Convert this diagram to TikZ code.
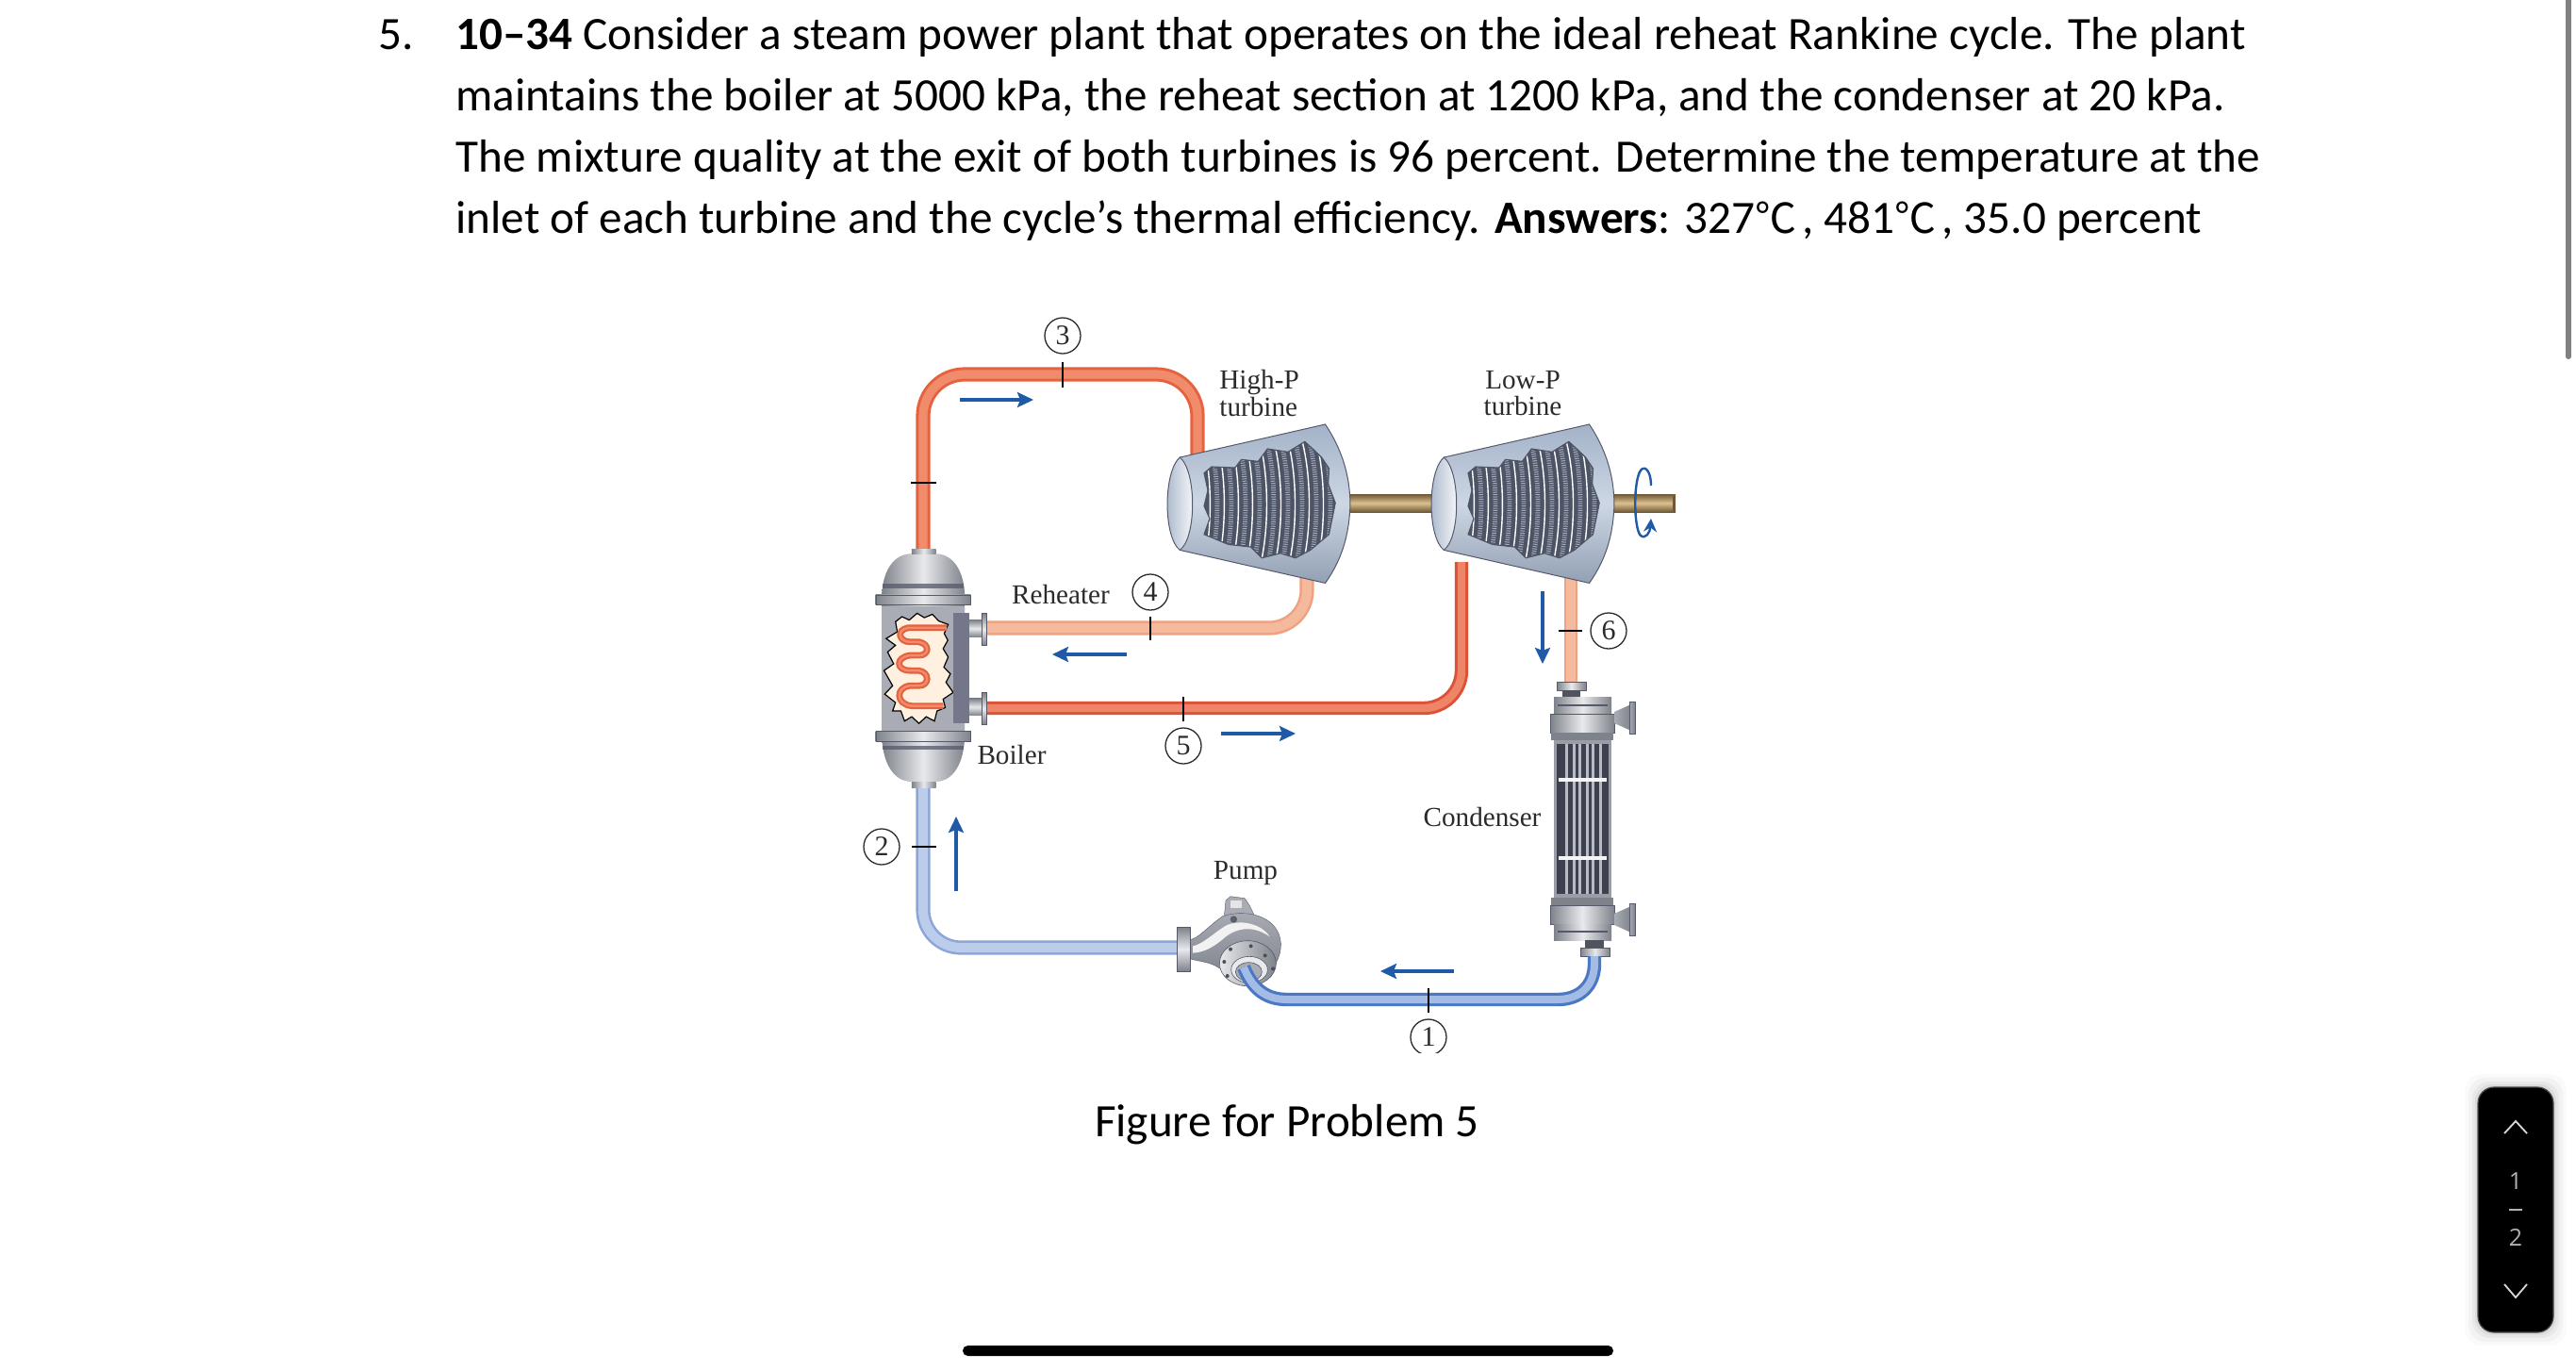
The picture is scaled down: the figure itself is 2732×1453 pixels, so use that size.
\documentclass[tikz,border=0pt]{standalone}
\usepackage{fontspec}
\usetikzlibrary{arrows.meta,calc}
\setmainfont{Carlito}
\newfontfamily\labfont{Liberation Serif}
\newfontfamily\cjkfont{Noto Sans CJK SC}
\newfontfamily\uifont{Open Sans}
\definecolor{hotA}{HTML}{E6623F}\definecolor{hotB}{HTML}{F08C6C}
\definecolor{hotC}{HTML}{DC5236}\definecolor{hotD}{HTML}{EF8568}
\definecolor{warmA}{HTML}{EFA27F}\definecolor{warmB}{HTML}{F5BA9E}
\definecolor{coldA}{HTML}{4B78C2}\definecolor{coldB}{HTML}{A3BCE6}
\definecolor{paleA}{HTML}{8CA6D8}\definecolor{paleB}{HTML}{BCCDEB}
\definecolor{flow}{HTML}{1F5AA8}
\definecolor{metalD}{HTML}{7E828A}\definecolor{metalL}{HTML}{E8E9EC}
\definecolor{metalM}{HTML}{A9ACB4}\definecolor{edge}{HTML}{55596A}
\definecolor{caseD}{HTML}{A3B2C8}\definecolor{caseL}{HTML}{CDD7E4}
\definecolor{bladeD}{HTML}{4C5466}\definecolor{bladeL}{HTML}{A5ACBB}
\definecolor{shaftL}{HTML}{DDC18E}\definecolor{shaftD}{HTML}{6E5836}
\definecolor{txt}{HTML}{2B2B2B}
\definecolor{sidebox}{HTML}{737789}\definecolor{neckD}{HTML}{50545F}
\definecolor{tubeD}{HTML}{3D414F}\definecolor{tubeL}{HTML}{B8BBC6}\definecolor{tubeW}{HTML}{9A9DA6}
\definecolor{boltA}{HTML}{4A4E58}\definecolor{boltB}{HTML}{5B5F6A}\definecolor{scrollc}{HTML}{808080}
\tikzset{
  pipe/.style={line cap=butt,line join=round},
  bodytext/.style={anchor=base west,inner sep=0pt,text=black,font=\fontsize{24.6}{24.6}\selectfont},
  lab/.style={inner sep=0pt,text=txt,align=left,font=\labfont\fontsize{14.6}{15.2}\selectfont},
  state/.style={circle,draw=txt,line width=0.65pt,minimum size=19pt,inner sep=0pt,text=txt,font=\labfont\fontsize{15}{15}\selectfont},
  tick/.style={draw=black,line width=1.2pt},
  flowarrow/.style={draw=flow,line width=1.6pt,-{Stealth[length=8.5pt,width=8pt,inset=1.5pt]}},
  metalh/.style={shade,left color=metalD,right color=metalD,middle color=metalL},
  metalv/.style={shade,top color=metalD,bottom color=metalD,middle color=metalL},
  thinedge/.style={draw=edge,line width=0.2pt},
}
\newcommand{\turbineshape}[1]{%
\begin{scope}[shift={(#1,370)},x=0.1976pt,y=-0.1667pt]
  \path[shade,top color=caseD,bottom color=caseD!90!black,middle color=caseL,draw=edge,line width=0.5pt]
    (130,345) -- (520,240) .. controls (565,320) and (585,400) .. (587,490)
    .. controls (585,590) and (565,670) .. (520,745) -- (130,640)
    .. controls (95,600) and (95,390) .. (130,345) -- cycle;
  \path[shade,left color=caseD,right color=white,draw=edge,line width=0.5pt]
    (130,345) .. controls (175,390) and (175,600) .. (130,640)
    .. controls (85,600) and (85,390) .. (130,345) -- cycle;
  \begin{scope}
    \clip (195,395) -- (215,375) -- (278,378) -- (295,352) -- (340,358) -- (365,318) -- (420,328) -- (465,295)
      -- (490,322) -- (510,345) -- (530,380) -- (528,430) -- (547,490) -- (530,590) -- (495,625) -- (480,640) -- (440,665)
      -- (400,650) -- (350,665) -- (320,630) -- (260,622) -- (195,590) -- (210,540) -- (195,500) -- (205,450) -- cycle;
    \fill[bladeD] (180,280) rectangle (560,680);
    \foreach \a in {245,283,321,359,397,435,473,511,549}{
      \draw[bladeL,line width=2.4pt,dash pattern=on 0.5pt off 0.7pt] ({\a-45},250) .. controls ({\a-5},380) and ({\a-5},610) .. ({\a-45},740);
    }
    \foreach \a in {226,264,302,340,378,416,454,492,530}{
      \draw[white,line width=0.7pt] ({\a-45},250) .. controls ({\a-5},380) and ({\a-5},610) .. ({\a-45},740);
    }
  \end{scope}
  \draw[bladeD,line width=0.6pt] (195,395) -- (215,375) -- (278,378) -- (295,352) -- (340,358) -- (365,318) -- (420,328) -- (465,295)
      -- (490,322) -- (510,345) -- (530,380) -- (528,430) -- (547,490) -- (530,590) -- (495,625) -- (480,640) -- (440,665)
      -- (400,650) -- (350,665) -- (320,630) -- (260,622) -- (195,590) -- (210,540) -- (195,500) -- (205,450) -- cycle;
\end{scope}}
\newcommand{\condflange}[1]{%
  \path[metalh,thinedge] (1644,#1) rectangle ++(68,20);
}
\newcommand{\celsiusmark}{{\cjkfont\fontsize{22}{22}\selectfont ℃}\kern3pt}
\begin{document}
\begin{tikzpicture}[x=0.5pt,y=-0.5pt]
\useasboundingbox (0,0) rectangle (2732,1453);
\fill[white] (0,0) rectangle (2732,1453);

% ---------- problem text
\node[bodytext] (num) at (401,52) {5.};
\node[bodytext] (l1) at (483,52) {\textbf{10–34} Consider a steam power plant that operates on the ideal reheat Rankine cycle. The plant};
\node[bodytext] (l2) at (483,117) {maintains the boiler at 5000 kPa, the reheat section at 1200 kPa, and the condenser at 20 kPa.};
\node[bodytext] (l3) at (483,182) {The mixture quality at the exit of both turbines is 96 percent. Determine the temperature at the};
\node[bodytext] (l4) at (483,247.5) {inlet of each turbine and the cycle’s thermal efficiency. \textbf{Answers}: 327\celsiusmark, 481\celsiusmark, 35.0 percent};
\node[bodytext,anchor=base] (cap) at (1365,1205) {Figure for Problem 5};

% ---------- named pipe points
\coordinate (boilerTop) at (979,582);
\coordinate (boilerBot) at (979,835);
\coordinate (hpIn) at (1270,492);
\coordinate (hpOut) at (1386,606);
\coordinate (reOut) at (1047,666);
\coordinate (reIn) at (1047,751);
\coordinate (lpIn) at (1550,596);
\coordinate (lpOut) at (1666,606);
\coordinate (condIn) at (1666,724);
\coordinate (condOut) at (1691,1014);
\coordinate (pumpIn) at (1319,1026);
\coordinate (pumpOut) at (1250,1005);

% ---------- pipes
\draw[pipe,rounded corners=22pt,draw=hotA,line width=1.5pt,double=hotB,double distance=4.6pt]
  (boilerTop) -- (979,397) -- (1270,397) -- (hpIn);
\draw[pipe,rounded corners=20pt,draw=warmA,line width=1.3pt,double=warmB,double distance=5pt]
  (reOut) -- (1386,666) -- (hpOut);
\draw[pipe,rounded corners=20pt,draw=hotC,line width=1.5pt,double=hotD,double distance=4.2pt]
  (reIn) -- (1550,751) -- (lpIn);
\draw[pipe,draw=warmA,line width=1pt,double=warmB,double distance=5.2pt] (lpOut) -- (condIn);
\draw[pipe,rounded corners=20pt,draw=paleA,line width=1.3pt,double=paleB,double distance=5pt]
  (boilerBot) -- (979,1005) -- (pumpOut);

% ---------- turbines
\path[shade,top color=shaftD,bottom color=shaftD,middle color=shaftL] (1425,524) rectangle (1540,543);
\path[shade,top color=shaftD,bottom color=shaftD,middle color=shaftL] (1705,524) rectangle (1777,543);
\turbineshape{1200}
\turbineshape{1480}
\fill[shaftD] (1774,526) rectangle (1777,543);
\coordinate (rotA) at (1751,515);
\coordinate (rotB) at (1751,550);
\draw[draw=flow,line width=1.2pt,-{Stealth[length=7pt,width=7pt]}] (rotA) .. controls (1751,500) and (1745,495) .. (1742,497)
  .. controls (1732,502) and (1732,560) .. (1740,568) .. controls (1745,572) and (1750,565) .. (rotB);

% ---------- ticks
\draw[tick] (1127,384) -- (1127,411);
\draw[tick] (966,512) -- (993,512);
\draw[tick] (1220,654) -- (1220,679);
\draw[tick] (1255,739) -- (1255,765);
\draw[tick] (1653,669) -- (1678,669);
\draw[tick] (967,898) -- (993,898);

% ---------- boiler
\begin{scope}[shift={(900,320)},x=0.1913pt,y=-0.1786pt]
  \path[metalh] (92,1000) -- (322,1000) -- (322,1280) .. controls (322,1370) and (290,1425) .. (240,1425) -- (175,1425) .. controls (125,1425) and (92,1370) .. (92,1280) -- cycle;
  \path[metalh] (92,880) .. controls (92,800) and (125,748) .. (175,748) -- (240,748) .. controls (290,748) and (322,800) .. (322,880) -- (322,1000) -- (92,1000) -- cycle;
  \path[metalh] (175,735) rectangle (242,750);
  \path[metalh] (175,1425) rectangle (242,1442);
  \fill[metalM] (92,905) rectangle (322,1275);
  \fill[edge,opacity=.75] (95,838) rectangle (318,850);
  \fill[edge,opacity=.75] (95,1318) rectangle (318,1330);
  \path[metalh,thinedge] (75,870) rectangle (338,900);
  \path[metalh,thinedge] (75,1275) rectangle (338,1305);
  % window
  \path[fill=white!88!orange,draw=black,line width=0.6pt]
    (130,950) -- (148,935) -- (168,945) -- (190,925) -- (210,938) -- (232,928) -- (250,948) -- (276,958)
    -- (265,985) -- (275,1005) -- (262,1030) -- (276,1055) -- (264,1085) -- (282,1105) -- (270,1130) -- (290,1160)
    -- (262,1180) -- (268,1205) -- (245,1215) -- (238,1245) -- (215,1232) -- (195,1252) -- (175,1232) -- (155,1245) -- (145,1215) -- (122,1215)
    -- (130,1190) -- (100,1165) -- (122,1140) -- (98,1095) -- (125,1075) -- (108,1040) -- (130,1020) -- (104,1000) -- (135,980) -- cycle;
  \draw[hotA,line width=3.4pt,line join=round] (272,968) -- (165,968) .. controls (130,975) and (140,1010) .. (170,1010) -- (195,1010) .. controls (225,1015) and (225,1050) .. (195,1050) -- (170,1050) .. controls (130,1055) and (130,1095) .. (170,1095) -- (195,1095) .. controls (225,1100) and (225,1140) .. (195,1140) -- (170,1140) .. controls (130,1145) and (130,1195) .. (175,1200) -- (262,1200);
  \draw[hotB,line width=1.2pt,line join=round] (272,968) -- (165,968) .. controls (130,975) and (140,1010) .. (170,1010) -- (195,1010) .. controls (225,1015) and (225,1050) .. (195,1050) -- (170,1050) .. controls (130,1055) and (130,1095) .. (170,1095) -- (195,1095) .. controls (225,1100) and (225,1140) .. (195,1140) -- (170,1140) .. controls (130,1145) and (130,1195) .. (175,1200) -- (262,1200);
  % side box and nozzles
  \fill[sidebox] (290,925) rectangle (335,1250);
  \foreach \yy in {945,1178}{
    \path[metalv] (335,\yy) rectangle (372,{\yy+50});
  }
  \foreach \yy in {925,1160}{
    \path[metalv,thinedge] (368,\yy) rectangle (383,{\yy+95});
  }
\end{scope}

% ---------- condenser
\path[metalh,thinedge] (1651,723) rectangle (1682,732);
\fill[neckD] (1657,732) rectangle (1676,739);
\path[metalh] (1648,739) rectangle (1709,757);
\fill[edge] (1652,747) rectangle (1705,749);
\condflange{757}
\fill[metalD] (1645,777) rectangle (1711,785);
\fill[tubeW] (1648,785) rectangle (1709,952);
\fill[tubeD] (1651,789) rectangle (1706,948);
\foreach \xx in {1660,1668,1674,1682,1688,1696}{\fill[tubeL] (\xx,789) rectangle ++(3,159);}
\fill[white!92!gray] (1653,825) rectangle (1704,829);
\fill[white!92!gray] (1653,908) rectangle (1704,912);
\fill[metalD] (1645,952) rectangle (1711,960);
\condflange{960}
\path[metalh] (1648,980) rectangle (1709,997);
\fill[edge] (1652,987) rectangle (1705,989);
\fill[neckD] (1681,997) rectangle (1701,1005);
\path[metalh,thinedge] (1676,1005) rectangle (1707,1014);
\foreach \yy in {761,975}{
  \path[shade,left color=metalM,right color=metalD] (1712,{\yy-6}) -- (1730,{\yy-14}) -- (1730,{\yy+14}) -- (1712,{\yy+6}) -- cycle;
  \path[shade,left color=metalM,right color=metalD,thinedge] (1728,{\yy-17}) rectangle (1734,{\yy+17});
}

% ---------- pump
\begin{scope}[shift={(1230,940)},x=0.1667pt,y=-0.1667pt]
  \path[fill=metalM,thinedge] (205,95) -- (210,45) -- (225,32) -- (270,38) -- (285,60) -- (300,90) -- cycle;
  \fill[white!80!gray] (225,45) rectangle (262,70);
  \path[shade,top color=metalM,bottom color=metalD,thinedge] (95,170) .. controls (125,165) and (150,130) .. (200,95)
     .. controls (260,75) and (350,85) .. (378,150) .. controls (395,190) and (380,240) .. (350,270)
     .. controls (300,300) and (240,300) .. (190,260) .. controls (160,240) and (130,240) .. (95,230) -- cycle;
  \path[fill=white!90!gray] (105,190) .. controls (135,185) and (170,150) .. (210,125) .. controls (250,105) and (320,115) .. (350,160) .. controls (300,125) and (250,130) .. (210,160) .. controls (170,195) and (140,210) .. (105,212) -- cycle;
  \fill[boltB] (235,105) circle [x radius=11,y radius=11];
  \path[metalv,thinedge] (55,130) rectangle (97,270);
  \path[shade,left color=metalL,right color=metalD,draw=edge,line width=0.3pt] (280,245) circle [x radius=90,y radius=72];
  \foreach \bx/\by in {225/200,290/190,335/220,360/262,335/265,205/240,215/285}{\fill[boltA] (\bx,\by) circle [x radius=6,y radius=6];}
  \path[fill=metalL,draw=edge,line width=0.3pt] (285,265) circle [x radius=58,y radius=42];
  \path[fill=metalM,draw=edge,line width=0.3pt] (283,272) circle [x radius=42,y radius=30];
\end{scope}
\draw[pipe,draw=coldA,line width=1.6pt,double=coldB,double distance=4pt]
  (condOut) -- (1691,1022) .. controls (1691,1046) and (1675,1060) .. (1652,1060) -- (1365,1060) .. controls (1342,1060) and (1328,1048) .. (pumpIn);
\draw[tick] (1515,1048) -- (1515,1074);

% ---------- flow arrows
\coordinate (f3a) at (1018,424); \coordinate (f3b) at (1096,424);
\coordinate (f4a) at (1195,694); \coordinate (f4b) at (1116,694);
\coordinate (f5a) at (1295,778); \coordinate (f5b) at (1374,778);
\coordinate (f6a) at (1636,627); \coordinate (f6b) at (1636,704);
\coordinate (f1a) at (1542,1030); \coordinate (f1b) at (1464,1030);
\coordinate (f2a) at (1014,945); \coordinate (f2b) at (1014,866);
\draw[flowarrow] (f3a) -- (f3b);
\draw[flowarrow] (f4a) -- (f4b);
\draw[flowarrow] (f5a) -- (f5b);
\draw[flowarrow] (f6a) -- (f6b);
\draw[flowarrow] (f1a) -- (f1b);
\draw[flowarrow] (f2a) -- (f2b);

% ---------- state circles
\node[state] (n3) at (1127,356) {3};
\node[state] (n4) at (1220,628) {4};
\node[state] (n5) at (1255,791) {5};
\node[state] (n6) at (1706,669) {6};
\node[state] (n2) at (935,898) {2};
\begin{scope}
  \clip (1480,1060) rectangle (1550,1116);
  \node[state] (n1) at (1515,1100) {1};
\end{scope}

% ---------- labels
\node[lab,anchor=west] (hp) at (1293,417) {High-P\\[-1pt]turbine};
\node[lab,align=center] (lp) at (1615,417) {Low-P\\[-1pt]turbine};
\node[lab] (rehtxt) at (1125,630.5) {Reheater};
\node[lab] (boil) at (1073,800) {Boiler};
\node[lab] (cond) at (1572,866.5) {Condenser};
\node[lab] (pumptxt) at (1321,926.5) {Pump};

% ---------- viewer interface
\fill[scrollc] (2721,0) rectangle (2727,378);
\fill[scrollc] (2724,378) circle [x radius=3,y radius=3];
\fill[black,rounded corners=2.7pt] (1021,1427) rectangle (1711,1438);
\foreach \g/\o in {14/0.02,10/0.03,6/0.04,3/0.05}{
  \fill[black,opacity=\o,rounded corners=9pt] ({2628-\g},{1153-\g}) rectangle ({2708+\g},{1413+\g});
}
\path[fill=black,draw=black!70,line width=0.6pt,rounded corners=8.5pt] (2628,1153) rectangle (2708,1413);
\coordinate (upA) at (2656,1202); \coordinate (upB) at (2668,1189); \coordinate (upC) at (2680,1202);
\coordinate (dnA) at (2656,1362); \coordinate (dnB) at (2668,1376); \coordinate (dnC) at (2680,1362);
\draw[white!85!black,line width=0.9pt] (upA) -- (upB) -- (upC);
\draw[white!85!black,line width=0.9pt] (dnA) -- (dnB) -- (dnC);
\node[inner sep=0pt,text=white!70!black,font=\uifont\fontsize{12.5}{12.5}\selectfont] (pgA) at (2668,1253) {1};
\node[inner sep=0pt,text=white!70!black,font=\uifont\fontsize{12.5}{12.5}\selectfont] (pgB) at (2668,1312) {2};
\coordinate (barA) at (2661,1283); \coordinate (barB) at (2675,1283);
\draw[white!70!black,line width=0.8pt] (barA) -- (barB);
\end{tikzpicture}
\end{document}
